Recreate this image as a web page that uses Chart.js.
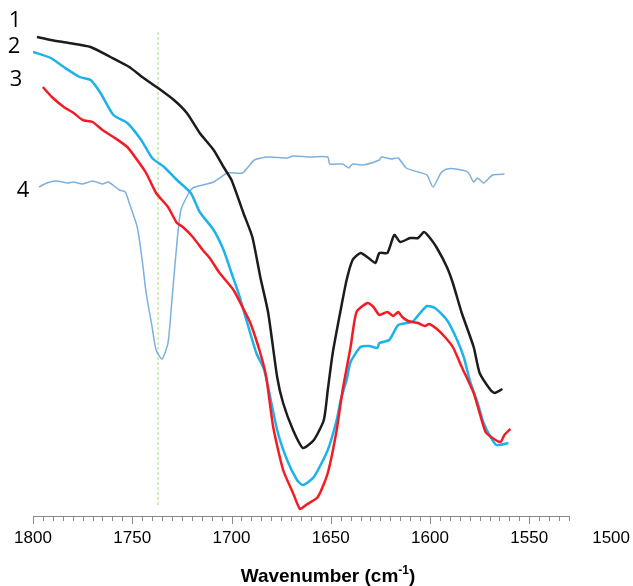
<!DOCTYPE html>
<html>
<head>
<meta charset="utf-8">
<script src="https://cdn.jsdelivr.net/npm/chart.js@4"></script>
<style>
  body { margin: 0; background: #fff; }
</style>
</head>
<body>
<canvas id="irChart" width="633" height="586"></canvas>
<script>
// wavenumber (cm-1) and relative absorbance for each spectrum
const wn1 = [1798,1791,1782,1771,1761,1751.5,1745,1737,1729,1722.5,1716,1709,1704,1700,1694,1689.5,1685.5,1681.5,1677,1674,1669,1664,1658.5,1653.5,1651.5,1649,1645,1642,1639,1635,1631,1627.5,1625.5,1621.5,1618,1615,1610,1606,1603,1600,1596.5,1591.5,1588.5,1584,1578,1575,1569.5,1567.5,1563.5];
const ab1 = [480,477,474,470,460,450,440,429,417,404,384,367,350,337,304,280,240,204,140,114,87,69,77,97,127,164,207,237,257,264,259,254,264,264,282,275,279,279,285,279,269,250,234,204,170,144,127,124,128];

const wn2 = [1800,1791,1784.5,1776.5,1771,1766,1759.5,1752.5,1745.5,1740,1734,1727.5,1720.5,1716,1709,1704,1700,1696.5,1692.5,1687.5,1683.5,1677,1672,1667,1664,1658.5,1651.5,1647,1645,1642,1640,1635,1630.5,1626.5,1625.5,1620.5,1616,1609,1605,1601.5,1597.5,1591.5,1587,1583,1580,1576,1573,1569.5,1566.5,1560.5];
const ab2 = [465,459,450,440,437,424,402,394,377,359,350,337,324,305,287,267,244,224,197,164,147,87,57,37,32,40,67,97,117,137,155,170,171,169,174,177,192,195,204,211,209,197,180,160,137,114,94,80,72,74];

const wn3 = [1795,1790.5,1784.5,1779.5,1775,1770,1765,1759.5,1752.5,1747.5,1743,1738,1732,1727.5,1724.5,1719.5,1714.5,1711,1706,1699,1694.5,1690.5,1685.5,1682.5,1679,1674,1669,1665.5,1662.5,1656.5,1651.5,1647,1644,1640,1637,1631.5,1628.5,1625.5,1621.5,1618.5,1616,1614,1611,1606,1602.5,1600.5,1596.5,1592.5,1588.5,1584,1578,1575,1572,1568.5,1564.5,1562.5,1559.5];
const ab3 = [430,420,410,404,397,395,387,380,370,357,344,324,310,294,290,280,267,259,244,227,210,194,164,140,90,47,24,8,12,20,44,87,127,170,205,214,210,202,205,201,205,200,196,194,191,193,188,180,170,150,124,104,85,79,75,82,88];

const wn4 = [1797,1793,1788.5,1782.5,1779.5,1775,1770,1765,1762,1756.5,1753.5,1751.5,1747.5,1745,1743,1740,1738,1735,1732,1730,1727.5,1725.5,1721.5,1719.5,1714.5,1709,1702,1694.5,1688.5,1681.5,1672,1669,1660.5,1651.5,1650.5,1644,1641,1639,1633.5,1625.5,1624.5,1619.5,1616,1612,1606,1601.5,1598.5,1594.5,1591.5,1587,1581,1578,1576,1573,1568.5,1562.5];
const ab4 = [330,334,336,334,335,333,336,333,335,327,325,314,290,257,224,190,167,158,174,217,274,307,324,329,332,335,344,344,357,360,359,361,360,360,353,353,349,353,352,357,360,358,359,349,345,342,330,344,348,348,345,335,339,334,342,343];

// ester carbonyl marker
const markerWn = 1737;
const markerRange = [12, 486];

const curveLabels = ['1', '2', '3', '4'];
const xTicks = [1800, 1750, 1700, 1650, 1600, 1550, 1500];

function toPoints(xs, ys) {
    return xs.map((x, i) => ({ x: x, y: ys[i] }));
}

const axisPlugin = {
    id: 'axisPlugin',
    afterDraw(chart) {
        const ctx = chart.ctx;
        const xs = chart.scales.x;
        const yAxis = chart.chartArea.bottom - 1;

        // axis line with minor ticks every 5 cm-1
        ctx.save();
        ctx.strokeStyle = '#8a8a8a';
        ctx.lineWidth = 1;
        ctx.beginPath();
        ctx.moveTo(xs.getPixelForValue(1800), yAxis + 0.5);
        ctx.lineTo(xs.getPixelForValue(1530), yAxis + 0.5);
        for (let v = 1530; v <= 1800; v += 5) {
            const px = Math.round(xs.getPixelForValue(v)) + 0.5;
            ctx.moveTo(px, yAxis);
            ctx.lineTo(px, yAxis + (v % 50 === 0 ? 8 : 5));
        }
        ctx.stroke();

        // tick labels, last one kept inside the canvas
        ctx.fillStyle = '#000';
        ctx.font = '17px "Liberation Sans", Arial, sans-serif';
        ctx.textAlign = 'center';
        ctx.textBaseline = 'middle';
        xTicks.forEach(v => {
            const w = ctx.measureText(String(v)).width;
            const px = Math.min(xs.getPixelForValue(v), chart.width - w / 2 - 3);
            ctx.fillText(String(v), px, 538);
        });

        // axis title with superscript
        const main = 'Wavenumber (cm';
        const sup = '-1';
        const close = ')';
        ctx.textAlign = 'left';
        ctx.textBaseline = 'alphabetic';
        ctx.font = 'bold 19px "Liberation Sans", Arial, sans-serif';
        const w1 = ctx.measureText(main).width;
        const w3 = ctx.measureText(close).width;
        ctx.font = 'bold 12px "Liberation Sans", Arial, sans-serif';
        const w2 = ctx.measureText(sup).width;
        let x = 328 - (w1 + w2 + w3) / 2;
        const base = 582;
        ctx.font = 'bold 19px "Liberation Sans", Arial, sans-serif';
        ctx.fillText(main, x, base);
        x += w1;
        ctx.font = 'bold 12px "Liberation Sans", Arial, sans-serif';
        ctx.fillText(sup, x, base - 8);
        x += w2;
        ctx.font = 'bold 19px "Liberation Sans", Arial, sans-serif';
        ctx.fillText(close, x, base);

        // curve numbers on the left
        const spots = [[15, 21], [14, 47], [16, 80], [23, 191]];
        ctx.font = '22px "Open Sans", "Noto Sans", sans-serif';
        ctx.textAlign = 'center';
        ctx.textBaseline = 'middle';
        curveLabels.forEach((t, i) => {
            ctx.fillText(t, spots[i][0], spots[i][1]);
        });
        ctx.restore();
    }
};

new Chart(document.getElementById('irChart'), {
    type: 'line',
    data: {
        datasets: [
            {
                data: toPoints(wn3, ab3),
                borderColor: '#f41c24',
                borderWidth: 2.5,
                order: 1
            },
            {
                data: toPoints(wn1, ab1),
                borderColor: '#1c1c1c',
                borderWidth: 2.5,
                order: 2
            },
            {
                data: toPoints(wn2, ab2),
                borderColor: '#1db2ea',
                borderWidth: 2.5,
                order: 3
            },
            {
                data: toPoints(wn4, ab4),
                borderColor: '#7eb0de',
                borderWidth: 1.5,
                order: 4
            },
            {
                data: markerRange.map(y => ({ x: markerWn, y: y })),
                borderColor: '#a9d87a',
                borderWidth: 1,
                borderDash: [3, 2],
                tension: 0,
                order: 5
            }
        ]
    },
    options: {
        responsive: false,
        animation: false,
        elements: {
            point: { radius: 0 },
            line: { tension: 0.2, fill: false }
        },
        layout: {
            padding: { left: 33, right: 4.5, top: 30, bottom: 69 }
        },
        plugins: {
            legend: { display: false },
            tooltip: { enabled: false }
        },
        scales: {
            x: {
                type: 'linear',
                reverse: true,
                min: 1500,
                max: 1800,
                grid: { display: false, drawTicks: false },
                border: { display: false },
                ticks: { display: false }
            },
            y: {
                display: false,
                min: 0,
                max: 487
            }
        }
    },
    plugins: [axisPlugin]
});
</script>
</body>
</html>
